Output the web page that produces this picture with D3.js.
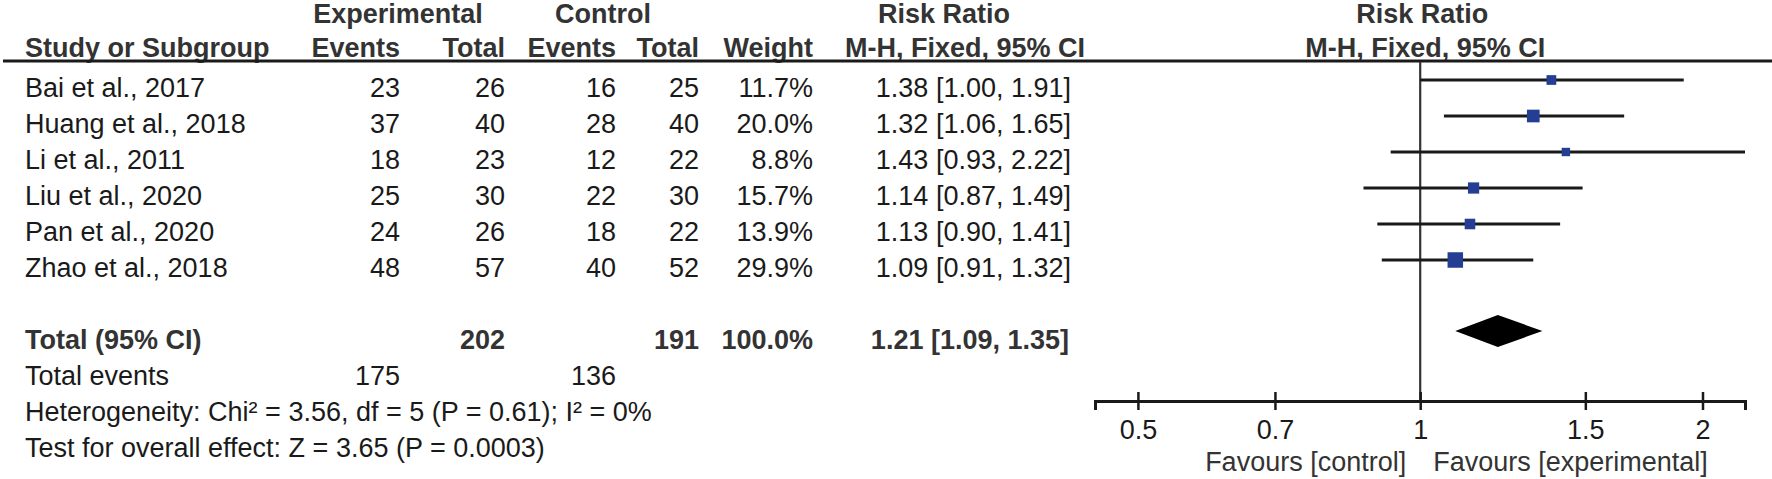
<!DOCTYPE html>
<html>
<head>
<meta charset="utf-8">
<script src="https://cdn.jsdelivr.net/npm/d3@7"></script>
<style>
  html, body { margin: 0; padding: 0; background: white; }
  svg { display: block; }
  text { font-family: "Liberation Sans", Arial, sans-serif; font-size: 27px; }
</style>
</head>
<body>
<script>
// data
const studies = ["Bai et al., 2017", "Huang et al., 2018", "Li et al., 2011", "Liu et al., 2020", "Pan et al., 2020", "Zhao et al., 2018"]
const expEvents = [23, 37, 18, 25, 24, 48]
const expTotal = [26, 40, 23, 30, 26, 57]
const ctrlEvents = [16, 28, 12, 22, 18, 40]
const ctrlTotal = [25, 40, 22, 30, 22, 52]
const weights = [11.7, 20.0, 8.8, 15.7, 13.9, 29.9]
const rr = [1.38, 1.32, 1.43, 1.14, 1.13, 1.09]
const rrLow = [1.00, 1.06, 0.93, 0.87, 0.90, 0.91]
const rrHigh = [1.91, 1.65, 2.22, 1.49, 1.41, 1.32]
const pooled = [1.21, 1.09, 1.35]        // estimate, lower, upper
const totals = [202, 191]                // experimental, control
const totalEvents = [175, 136]
const tickValues = [0.5, 0.7, 1, 1.5, 2]
const heterogeneity = "Heterogeneity: Chi² = 3.56, df = 5 (P = 0.61); I² = 0%"
const overallTest = "Test for overall effect: Z = 3.65 (P = 0.0003)"

const [width, height] = [1772, 479]
const colors = {
    text: "#1a1a1a",
    head: "#333333",
    line: "#1a1a1a",
    box: "#233e93"
}
const fmt2 = d3.format(".2f")
const fmt1 = d3.format(".1f")
const ciText = (m, l, h) => `${fmt2(m)} [${fmt2(l)}, ${fmt2(h)}]`

// column right edges of the table
const col = { name: 25, expE: 400, expT: 505, ctlE: 616, ctlT: 699, weight: 813, ci: 1071 }

const svg = d3.select("body").append("svg")
    .attr("width", width)
    .attr("height", height)

// row baselines: 6 studies, a blank row, then totals and notes
const yRow = d3.scaleLinear().domain([0, 10]).range([97, 457])
const markOffset = -17

const x = d3.scaleLog().domain([0.45, 2.22]).range([1095, 1745])
const size = d3.scaleSqrt().domain([0, 29.9]).range([0, 15.5])

// HEADERS
const head = svg.append("g").attr("font-weight", "bold").attr("fill", colors.head)
const h1 = 23, h2 = 57
head.append("text").attr("x", 398).attr("y", h1).attr("text-anchor", "middle").text("Experimental")
head.append("text").attr("x", 603).attr("y", h1).attr("text-anchor", "middle").text("Control")
head.append("text").attr("x", 944).attr("y", h1).attr("text-anchor", "middle").text("Risk Ratio")
head.append("text").attr("x", x(1) + 2).attr("y", h1).attr("text-anchor", "middle").text("Risk Ratio")

head.append("text").attr("x", col.name).attr("y", h2).text("Study or Subgroup")
const h2cols = [["Events", col.expE], ["Total", col.expT], ["Events", col.ctlE], ["Total", col.ctlT], ["Weight", col.weight]]
head.selectAll(".h2")
    .data(h2cols)
    .enter()
    .append("text")
        .attr("x", d => d[1])
        .attr("y", h2)
        .attr("text-anchor", "end")
        .text(d => d[0])
head.append("text").attr("x", 965).attr("y", h2).attr("text-anchor", "middle").text("M-H, Fixed, 95% CI")
head.append("text").attr("x", x(1) + 5).attr("y", h2).attr("text-anchor", "middle").text("M-H, Fixed, 95% CI")

svg.append("line")
    .attr("x1", 3).attr("x2", width)
    .attr("y1", 61).attr("y2", 61)
    .attr("stroke", colors.line)
    .attr("stroke-width", 3)

// STUDY ROWS
const rows = studies.map((s, i) => ({
    name: s, i: i,
    cells: [[expEvents[i], col.expE], [expTotal[i], col.expT], [ctrlEvents[i], col.ctlE], [ctrlTotal[i], col.ctlT],
            [fmt1(weights[i]) + "%", col.weight], [ciText(rr[i], rrLow[i], rrHigh[i]), col.ci]]
}))

const rowG = svg.append("g").attr("fill", colors.text)
    .selectAll("g")
    .data(rows)
    .enter()
    .append("g")
rowG.append("text")
    .attr("x", col.name)
    .attr("y", d => yRow(d.i))
    .text(d => d.name)
rowG.selectAll(".cell")
    .data(d => d.cells.map(c => [c[0], c[1], d.i]))
    .enter()
    .append("text")
        .attr("x", d => d[1])
        .attr("y", d => yRow(d[2]))
        .attr("text-anchor", "end")
        .text(d => d[0])

// TOTAL ROWS
const tot = svg.append("g").attr("font-weight", "bold").attr("fill", colors.head)
tot.append("text").attr("x", col.name).attr("y", yRow(7)).text("Total (95% CI)")
tot.selectAll(".tc")
    .data([[totals[0], col.expT], [totals[1], col.ctlT], ["100.0%", col.weight], [ciText(pooled[0], pooled[1], pooled[2]), col.ci - 2]])
    .enter()
    .append("text")
        .attr("x", d => d[1])
        .attr("y", yRow(7))
        .attr("text-anchor", "end")
        .text(d => d[0])

const notes = svg.append("g").attr("fill", colors.text)
notes.append("text").attr("x", col.name).attr("y", yRow(8)).text("Total events")
notes.append("text").attr("x", col.expE).attr("y", yRow(8)).attr("text-anchor", "end").text(totalEvents[0])
notes.append("text").attr("x", col.ctlE).attr("y", yRow(8)).attr("text-anchor", "end").text(totalEvents[1])
notes.append("text").attr("x", col.name).attr("y", yRow(9)).text(heterogeneity)
notes.append("text").attr("x", col.name).attr("y", yRow(10)).text(overallTest)

// PLOT
const axisY = 401
svg.append("line")
    .attr("x1", x(1)).attr("x2", x(1))
    .attr("y1", 62).attr("y2", axisY)
    .attr("stroke", "#333")
    .attr("stroke-width", 2.2)

const plot = svg.append("g")
plot.selectAll(".ci")
    .data(rows)
    .enter()
    .append("line")
        .attr("x1", d => x(rrLow[d.i]))
        .attr("x2", d => x(rrHigh[d.i]))
        .attr("y1", d => yRow(d.i) + markOffset)
        .attr("y2", d => yRow(d.i) + markOffset)
        .attr("stroke", colors.line)
        .attr("stroke-width", 3)
plot.selectAll(".box")
    .data(rows)
    .enter()
    .append("rect")
        .attr("x", d => x(rr[d.i]) - size(weights[d.i]) / 2)
        .attr("y", d => yRow(d.i) + markOffset - size(weights[d.i]) / 2)
        .attr("width", d => size(weights[d.i]))
        .attr("height", d => size(weights[d.i]))
        .attr("fill", colors.box)

const dy = yRow(7) + markOffset - 1
plot.append("path")
    .attr("d", d3.line()([[x(pooled[1]), dy], [x(pooled[0]), dy - 16], [x(pooled[2]), dy], [x(pooled[0]), dy + 16]]) + "Z")
    .attr("fill", "black")

// axis, ticks cross the line on both sides
const axis = svg.append("g")
    .attr("transform", `translate(0,${axisY})`)
    .call(d3.axisBottom(x).tickValues(tickValues).tickFormat(d3.format("")).tickSizeOuter(0).tickSize(9))
axis.select(".domain").attr("stroke", colors.line).attr("stroke-width", 3)
axis.selectAll(".tick line").attr("y1", -9).attr("y2", 9).attr("stroke", colors.line).attr("stroke-width", 2.5)
axis.selectAll(".tick text")
    .attr("y", 38)
    .attr("dy", null)
    .attr("fill", colors.text)
    .style("font-size", "27px")
    .style("font-family", "\"Liberation Sans\", Arial, sans-serif")

svg.append("text").attr("x", x(1) - 14).attr("y", 471).attr("text-anchor", "end").attr("fill", "#333").text("Favours [control]")
svg.append("text").attr("x", x(1) + 13).attr("y", 471).attr("fill", "#333").text("Favours [experimental]")
</script>
</body>
</html>
